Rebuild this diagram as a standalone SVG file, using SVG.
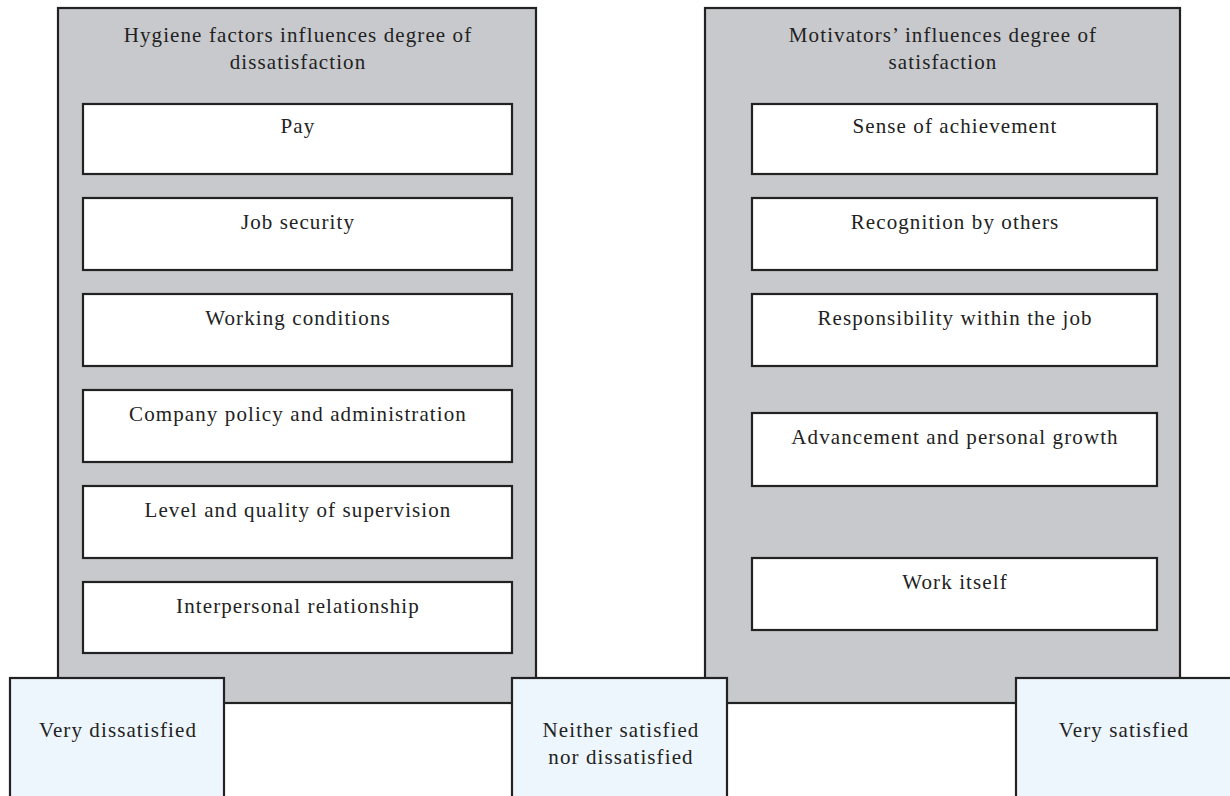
<svg xmlns="http://www.w3.org/2000/svg" width="1230" height="796" viewBox="0 0 1230 796">
<style>
.panel{fill:#c8c9cc;stroke:#222;stroke-width:2.2}
.box{fill:#fff;stroke:#222;stroke-width:2.2}
.lvl{fill:#eef6fd;stroke:#222;stroke-width:2.2}
text{font-family:"Liberation Serif","Times New Roman",serif;font-size:21px;fill:#222;text-anchor:middle;letter-spacing:1.1px}
</style>
<rect width="1230" height="796" fill="#fff"/>
<g id="hygiene">
<rect class="panel" x="58" y="8" width="478" height="695"/>
<text x="298" y="42">Hygiene factors influences degree of</text>
<text x="298" y="69">dissatisfaction</text>
</g>
<g id="motivators">
<rect class="panel" x="705" y="8" width="475" height="695"/>
<text x="943" y="42">Motivators’ influences degree of</text>
<text x="943" y="69">satisfaction</text>
</g>
<g id="pay"><rect class="box" x="83" y="104" width="429" height="70"/><text x="298" y="133">Pay</text></g>
<g id="job-security"><rect class="box" x="83" y="198" width="429" height="72"/><text x="298" y="229">Job security</text></g>
<g id="working-conditions"><rect class="box" x="83" y="294" width="429" height="72"/><text x="298" y="325">Working conditions</text></g>
<g id="company-policy"><rect class="box" x="83" y="390" width="429" height="72"/><text x="298" y="421">Company policy and administration</text></g>
<g id="supervision"><rect class="box" x="83" y="486" width="429" height="72"/><text x="298" y="517">Level and quality of supervision</text></g>
<g id="interpersonal"><rect class="box" x="83" y="582" width="429" height="71"/><text x="298" y="613">Interpersonal relationship</text></g>
<g id="achievement"><rect class="box" x="752" y="104" width="405" height="70"/><text x="955" y="133">Sense of achievement</text></g>
<g id="recognition"><rect class="box" x="752" y="198" width="405" height="72"/><text x="955" y="229">Recognition by others</text></g>
<g id="responsibility"><rect class="box" x="752" y="294" width="405" height="72"/><text x="955" y="325">Responsibility within the job</text></g>
<g id="advancement"><rect class="box" x="752" y="413" width="405" height="73"/><text x="955" y="444">Advancement and personal growth</text></g>
<g id="work-itself"><rect class="box" x="752" y="558" width="405" height="72"/><text x="955" y="589">Work itself</text></g>
<g id="very-dissatisfied"><rect class="lvl" x="10" y="678" width="214" height="130"/><text x="118" y="737">Very dissatisfied</text></g>
<g id="neutral"><rect class="lvl" x="512" y="678" width="215" height="130"/><text x="621" y="737">Neither satisfied</text><text x="621" y="764">nor dissatisfied</text></g>
<g id="very-satisfied"><rect class="lvl" x="1016" y="678" width="220" height="130"/><text x="1124" y="737">Very satisfied</text></g>
<g id="connectors"></g>
</svg>
